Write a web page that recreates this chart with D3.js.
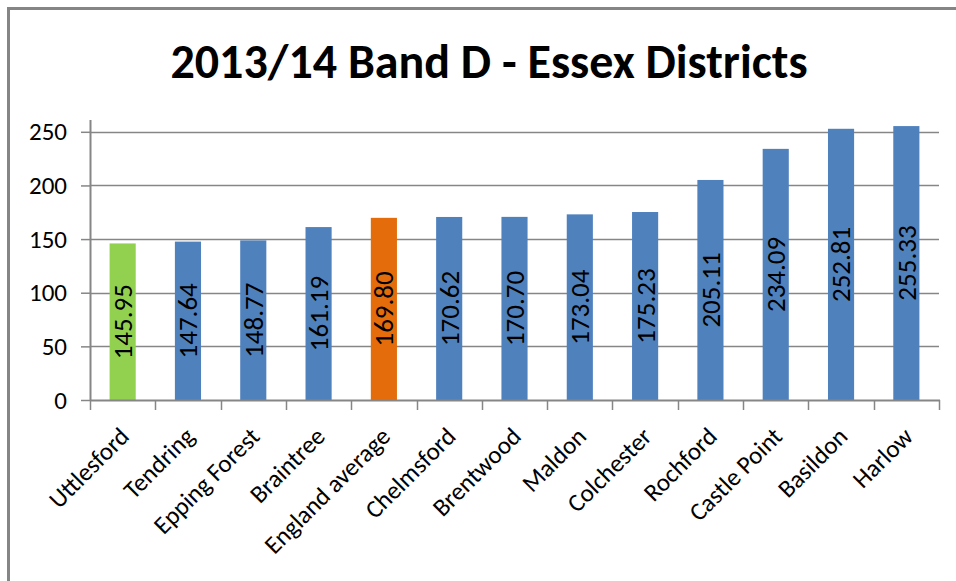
<!DOCTYPE html>
<html><head><meta charset="utf-8">
<script src="https://cdn.jsdelivr.net/npm/d3@7"></script>
<style>body{margin:0;background:#fff;} svg{display:block;}</style>
</head><body>
<script>
const title = "2013/14 Band D - Essex Districts";
const categories = ["Uttlesford","Tendring","Epping Forest","Braintree","England average","Chelmsford","Brentwood","Maldon","Colchester","Rochford","Castle Point","Basildon","Harlow"];
const values = [145.95,147.64,148.77,161.19,169.80,170.62,170.70,173.04,175.23,205.11,234.09,252.81,255.33];
const barColors = ["#92D050","#4F81BD","#4F81BD","#4F81BD","#E46C0A","#4F81BD","#4F81BD","#4F81BD","#4F81BD","#4F81BD","#4F81BD","#4F81BD","#4F81BD"];
const yTicks = [0,50,100,150,200,250];

const W = 956, H = 581;
const svg = d3.select("body").append("svg").attr("width", W).attr("height", H);
const font = "Carlito, Lato, 'Open Sans', sans-serif";

// frame
svg.append("path").attr("d", `M8.5,${H} L8.5,8.5 L${W},8.5`).attr("fill","none").attr("stroke","#858585").attr("stroke-width",3);

svg.append("text").attr("x", 489).attr("y", 78).attr("text-anchor","middle")
  .attr("font-family", font).attr("font-weight","bold").attr("font-size", 48).attr("fill","#000").text(title);

const x0 = 90, x1 = 939, yBase = 400, yTop = 120;
const x = d3.scaleBand().domain(categories).range([x0, x1]).paddingInner(0.6).paddingOuter(0.3);
const y = d3.scaleLinear().domain([0, 261]).range([yBase, yTop]);
const grid = "#868686";

// gridlines
svg.append("g").selectAll("line").data(yTicks.filter(d=>d>0)).join("line")
  .attr("x1", x0).attr("x2", x1).attr("y1", d=>Math.round(y(d))+0.5).attr("y2", d=>Math.round(y(d))+0.5)
  .attr("stroke", grid).attr("stroke-width", 1.5);

// y axis
const yAxis = svg.append("g").attr("transform", `translate(${x0},0)`)
  .call(d3.axisLeft(y).tickValues(yTicks).tickSize(9).tickPadding(14));
yAxis.select(".domain").attr("stroke", grid).attr("stroke-width", 2).attr("d", `M0.5,${yTop}V${yBase}`);
yAxis.selectAll(".tick line").attr("stroke", grid).attr("stroke-width", 1.5);
yAxis.selectAll(".tick text").attr("font-family", font).attr("font-size", 25).attr("fill","#000");

// bars
svg.append("g").selectAll("rect").data(values).join("rect")
  .attr("x", (d,i)=>x(categories[i])).attr("width", x.bandwidth())
  .attr("y", d=>y(d)).attr("height", d=>yBase - y(d))
  .attr("fill", (d,i)=>barColors[i]);

// x axis
const bounds = d3.range(categories.length+1).map(i => x0 + (x1-x0)*i/categories.length);
svg.append("line").attr("x1", x0).attr("x2", x1+1).attr("y1", yBase+0.5).attr("y2", yBase+0.5).attr("stroke", grid).attr("stroke-width", 2);
svg.append("g").selectAll("line").data(bounds).join("line")
  .attr("x1", d=>Math.round(d)+0.5).attr("x2", d=>Math.round(d)+0.5).attr("y1", yBase).attr("y2", yBase+10)
  .attr("stroke", grid).attr("stroke-width", 1.5);

// category labels
svg.append("g").selectAll("text").data(categories).join("text")
  .attr("transform", d => `translate(${x(d)+x.bandwidth()/2+8},${yBase+38}) rotate(-45)`)
  .attr("text-anchor","end").attr("font-family", font).attr("font-size", 25).attr("fill","#000").text(d=>d);

// value labels
svg.append("g").selectAll("text").data(values).join("text")
  .attr("transform", (d,i) => `translate(${x(categories[i])+x.bandwidth()/2},${(y(d)+yBase)/2}) rotate(-90)`)
  .attr("text-anchor","middle").attr("dy","0.35em").attr("font-family", font).attr("font-size", 27).attr("fill","#000")
  .text(d=>d.toFixed(2));
</script>
</body></html>
